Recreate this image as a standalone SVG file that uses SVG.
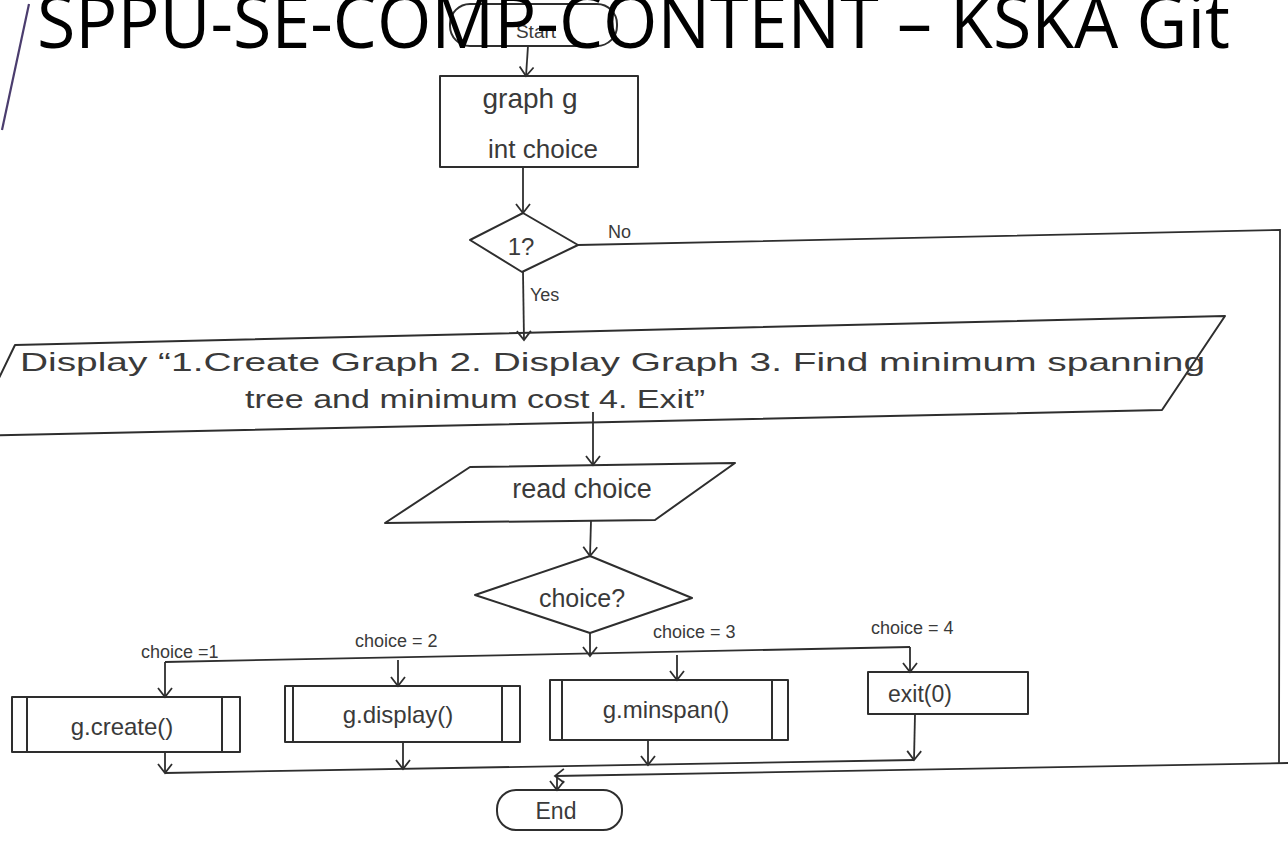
<svg xmlns="http://www.w3.org/2000/svg" width="1288" height="842" viewBox="0 0 1288 842">
<style>
.shape{fill:none;stroke:#2e2e2e;stroke-width:2;stroke-linejoin:round}
.edge{fill:none;stroke:#2e2e2e;stroke-width:1.8}
.hand{font-family:"Liberation Sans","DejaVu Sans",sans-serif;fill:#3a3a3a}
.lbl{font-family:"Liberation Sans","DejaVu Sans",sans-serif;fill:#3a3a3a;font-size:18px}
.title{font-family:"Open Sans","Noto Sans",sans-serif;fill:#000;font-size:74px}
</style>
<defs>
<marker id="v" markerWidth="16" markerHeight="16" refX="13" refY="8" orient="auto" markerUnits="userSpaceOnUse" viewBox="0 0 16 16">
<path d="M4,1 L13,8 L4,15" fill="none" stroke="#2e2e2e" stroke-width="1.8"/>
</marker>
</defs>
<rect width="1288" height="842" fill="#fff"/>
<line x1="29" y1="4" x2="2" y2="130" stroke="#4b3d6e" stroke-width="2.2"/>

<g id="start">
<rect x="450" y="4" width="167" height="42" rx="20" class="shape"/>
<text x="536" y="38" class="hand" font-size="19" text-anchor="middle" fill="#777">Start</text>
</g>
<g id="init">
<rect x="440" y="76" width="198" height="91" class="shape"/>
<text x="530" y="108" class="hand" font-size="28" text-anchor="middle">graph g</text>
<text x="543" y="158" class="hand" font-size="26" text-anchor="middle">int choice</text>
</g>
<g id="cond1">
<polygon points="523,213 578,245 522,272 470,240" class="shape"/>
<text x="521" y="255" class="hand" font-size="24" text-anchor="middle">1?</text>
</g>
<g id="display">
<polygon points="15,345 1225,316 1162,410 -29,436" class="shape"/>
<text x="20" y="371" class="hand" font-size="26" textLength="1185" lengthAdjust="spacingAndGlyphs">Display “1.Create Graph 2. Display Graph 3. Find minimum spanning</text>
<text x="245" y="408" class="hand" font-size="26" textLength="460" lengthAdjust="spacingAndGlyphs">tree and minimum cost 4. Exit”</text>
</g>
<g id="read">
<polygon points="470,467 735,463 655,520 385,523" class="shape"/>
<text x="582" y="498" class="hand" font-size="27" text-anchor="middle">read choice</text>
</g>
<g id="choice">
<polygon points="590,556 692,598 590,633 475,595" class="shape"/>
<text x="582" y="607" class="hand" font-size="25" text-anchor="middle">choice?</text>
</g>
<g id="create">
<rect x="12" y="697" width="228" height="55" class="shape"/>
<line x1="27" y1="697" x2="27" y2="752" class="shape"/>
<line x1="222" y1="697" x2="222" y2="752" class="shape"/>
<text x="122" y="735" class="hand" font-size="24" text-anchor="middle">g.create()</text>
</g>
<g id="disp">
<rect x="285" y="686" width="235" height="56" class="shape"/>
<line x1="293" y1="686" x2="293" y2="742" class="shape"/>
<line x1="502" y1="686" x2="502" y2="742" class="shape"/>
<text x="398" y="723" class="hand" font-size="24" text-anchor="middle">g.display()</text>
</g>
<g id="minspan">
<rect x="550" y="680" width="238" height="60" class="shape"/>
<line x1="562" y1="680" x2="562" y2="740" class="shape"/>
<line x1="772" y1="680" x2="772" y2="740" class="shape"/>
<text x="666" y="718" class="hand" font-size="24" text-anchor="middle">g.minspan()</text>
</g>
<g id="exit">
<rect x="868" y="672" width="160" height="42" class="shape"/>
<text x="920" y="702" class="hand" font-size="23" text-anchor="middle">exit(0)</text>
</g>
<g id="end">
<rect x="497" y="790" width="125" height="40" rx="19" class="shape"/>
<text x="556" y="819" class="hand" font-size="23" text-anchor="middle">End</text>
</g>

<g id="connectors">
<line x1="528" y1="46" x2="526" y2="76" class="edge" marker-end="url(#v)"/>
<line x1="523" y1="167" x2="523" y2="213" class="edge" marker-end="url(#v)"/>
<line x1="523" y1="272" x2="524" y2="340" class="edge" marker-end="url(#v)"/>
<polyline points="578,245 1280,230 1279,763" class="edge"/>
<line x1="1288" y1="763" x2="555" y2="776" class="edge" marker-end="url(#v)"/>
<line x1="593" y1="412" x2="593" y2="465" class="edge" marker-end="url(#v)"/>
<line x1="591" y1="521" x2="590" y2="556" class="edge" marker-end="url(#v)"/>
<line x1="590" y1="633" x2="590" y2="656" class="edge" marker-end="url(#v)"/>
<line x1="165" y1="662" x2="910" y2="647" class="edge"/>
<line x1="165" y1="662" x2="165" y2="697" class="edge" marker-end="url(#v)"/>
<line x1="398" y1="660" x2="398" y2="686" class="edge" marker-end="url(#v)"/>
<line x1="677" y1="655" x2="677" y2="680" class="edge" marker-end="url(#v)"/>
<line x1="910" y1="647" x2="910" y2="672" class="edge" marker-end="url(#v)"/>
<line x1="165" y1="752" x2="165" y2="773" class="edge" marker-end="url(#v)"/>
<line x1="403" y1="742" x2="403" y2="769" class="edge" marker-end="url(#v)"/>
<line x1="648" y1="740" x2="648" y2="765" class="edge" marker-end="url(#v)"/>
<line x1="915" y1="714" x2="914" y2="760" class="edge" marker-end="url(#v)"/>
<line x1="165" y1="773" x2="914" y2="760" class="edge"/>
<line x1="557" y1="776" x2="557" y2="790" class="edge" marker-end="url(#v)"/>
<text x="608" y="238" class="lbl">No</text>
<text x="530" y="301" class="lbl">Yes</text>
<text x="141" y="658" class="lbl">choice =1</text>
<text x="355" y="647" class="lbl">choice = 2</text>
<text x="653" y="638" class="lbl">choice = 3</text>
<text x="871" y="634" class="lbl">choice = 4</text>
</g>
<text x="37" y="48" class="title" textLength="1193" lengthAdjust="spacingAndGlyphs">SPPU-SE-COMP-CONTENT – KSKA Git</text>
</svg>
